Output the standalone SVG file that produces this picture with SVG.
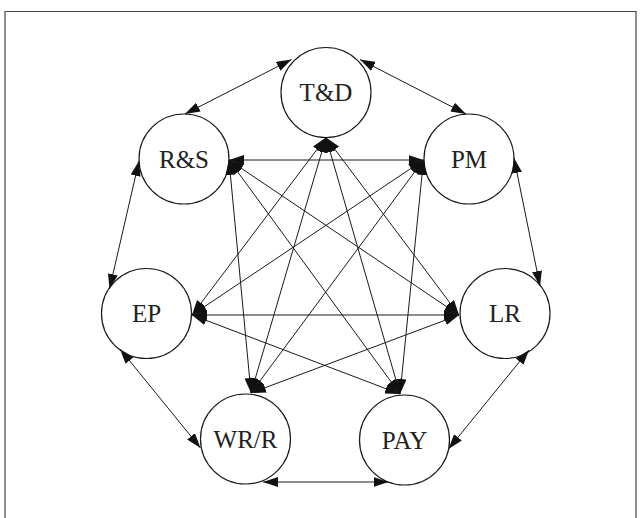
<svg xmlns="http://www.w3.org/2000/svg" width="641" height="518" viewBox="0 0 641 518">
  <style>
    .node circle { fill: #fff; stroke: #1a1a1a; stroke-width: 1.2; }
    .node text { font-family: "Liberation Serif", "Times New Roman", serif; font-size: 25px; fill: #222; text-anchor: middle; }
    .links line { stroke: #1a1a1a; stroke-width: 1; marker-start: url(#head); marker-end: url(#head); }
    .frame { fill: none; stroke: #444; stroke-width: 1.2; }
  </style>
  <defs>
    <marker id="head" viewBox="0 0 15 10" refX="15" refY="5" markerWidth="15" markerHeight="10" markerUnits="userSpaceOnUse" orient="auto-start-reverse">
      <path d="M0,0 L15,5 L0,10 z" fill="#111"/>
    </marker>
  </defs>

  <rect width="641" height="518" fill="#fff"/>
  <path class="frame" d="M5,518 V11.5 H636 V518"/>

  <!-- nodes -->
  <g id="node-td" class="node"><circle cx="326" cy="92.5" r="45"/><text x="326" y="101">T&amp;D</text></g>
  <g id="node-rs" class="node"><circle cx="184" cy="159" r="45"/><text x="184" y="167.5">R&amp;S</text></g>
  <g id="node-pm" class="node"><circle cx="469" cy="159" r="45"/><text x="469" y="167.5">PM</text></g>
  <g id="node-ep" class="node"><circle cx="146.5" cy="313.5" r="45"/><text x="146.5" y="322">EP</text></g>
  <g id="node-lr" class="node"><circle cx="505" cy="313.5" r="45"/><text x="505" y="322">LR</text></g>
  <g id="node-wrr" class="node"><circle cx="245.5" cy="439" r="45"/><text x="245.5" y="447.5">WR/R</text></g>
  <g id="node-pay" class="node"><circle cx="404.5" cy="440" r="45"/><text x="404.5" y="448.5">PAY</text></g>

  <!-- connectors: outer ring between neighbours, inner links between ports -->
  <g id="connectors" class="links">
    <line x1="291.5" y1="59.5" x2="185" y2="114"/>
    <line x1="360" y1="59.5" x2="466" y2="114"/>
    <line x1="514" y1="158" x2="540" y2="286"/>
    <line x1="529" y1="350" x2="448.5" y2="449"/>
    <line x1="388.5" y1="482" x2="263" y2="482"/>
    <line x1="200.5" y1="448" x2="120" y2="349"/>
    <line x1="109.5" y1="289" x2="139" y2="161"/>

    <line x1="326" y1="137.5" x2="192" y2="315"/>
    <line x1="326" y1="137.5" x2="251" y2="393"/>
    <line x1="326" y1="137.5" x2="400" y2="394"/>
    <line x1="326" y1="137.5" x2="459" y2="315"/>
    <line x1="229" y1="160" x2="423.5" y2="160"/>
    <line x1="229" y1="160" x2="459" y2="315"/>
    <line x1="229" y1="160" x2="400" y2="394"/>
    <line x1="229" y1="160" x2="251" y2="393"/>
    <line x1="423.5" y1="160" x2="192" y2="315"/>
    <line x1="423.5" y1="160" x2="251" y2="393"/>
    <line x1="423.5" y1="160" x2="400" y2="394"/>
    <line x1="192" y1="315" x2="459" y2="315"/>
    <line x1="192" y1="315" x2="400" y2="394"/>
    <line x1="459" y1="315" x2="251" y2="393"/>
  </g>
</svg>
